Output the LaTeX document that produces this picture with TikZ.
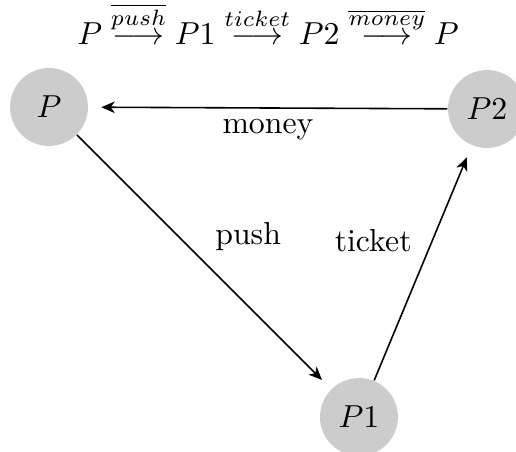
\documentclass[tikz,border=0pt]{standalone}
\usetikzlibrary{arrows.meta}
\begin{document}
\begin{tikzpicture}[x=0.3145pt, y=-0.3145pt,
  state/.style={circle, fill=black!20, minimum size=24.5pt, inner sep=0pt},
  trans/.style={-{Stealth[length=4.2pt, width=3.6pt, inset=1.2pt]}, line width=0.5pt, shorten >=4pt}]
  \useasboundingbox (0,0) rectangle (516,452);
  \clip (0,0) rectangle (516,452);

  % run of the protocol
  \node[anchor=base] (seq) at (268,45)
    {$P \stackrel{\overline{push}}{\longrightarrow} P1 \stackrel{ticket}{\longrightarrow} P2 \stackrel{\overline{money}}{\longrightarrow} P$};

  % states
  \node[state] (p)  at (49,107)  {$P$};
  \node[state] (p1) at (359,417) {$P1$};
  \node[state] (p2) at (487,109) {$P2$};

  % transitions
  \draw[trans] (p)  -- node[midway, above right] {push}   (p1);
  \draw[trans] (p1) -- node[midway, above left]  {ticket} (p2);
  \draw[trans] (p2) -- node[midway, below]       {money}  (p);
\end{tikzpicture}
\end{document}
